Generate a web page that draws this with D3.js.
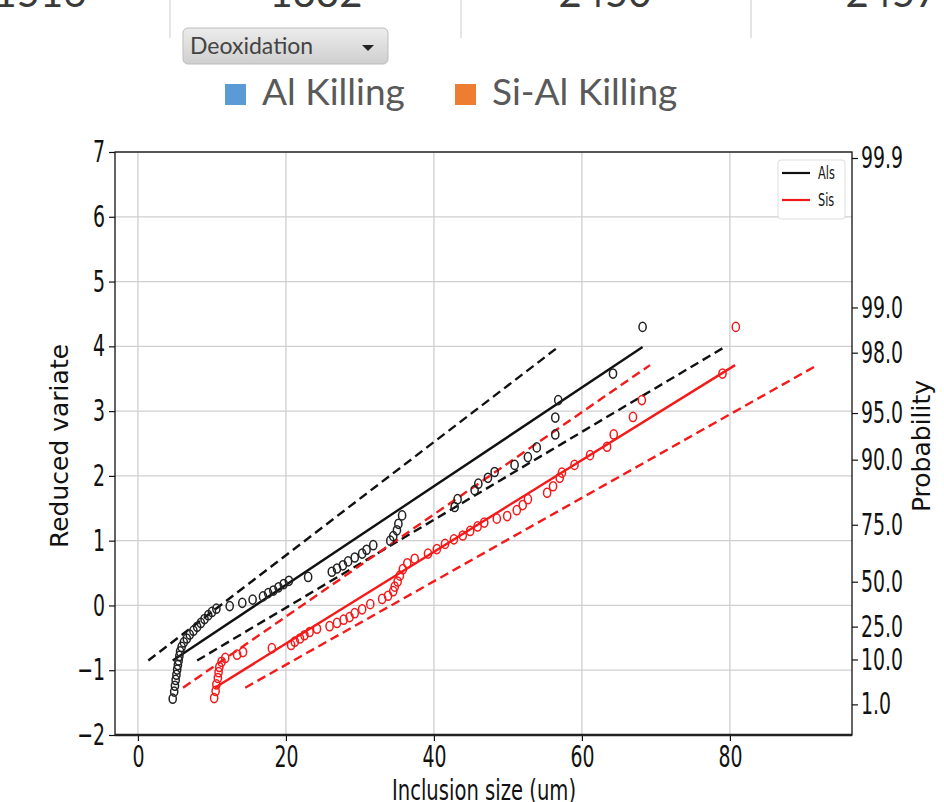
<!DOCTYPE html>
<html lang="en">
<head>
<meta charset="utf-8">
<script src="https://d3js.org/d3.v7.min.js"></script>
<style>
  body { margin: 0; background: #fff; }
  svg { display: block; }
</style>
</head>
<body>
<div id="chart"></div>
<script>
var w = 944, h = 802;

// header strip (only the bottom of these numbers is visible)
var topNumbers = ["1516", "1332", "2450", "2457"];
var seriesNames = ["Al Killing", "Si-Al Killing"];
var seriesColors = ["#5b9bd5", "#ed7d31"];

// Als points: inclusion size (um) and reduced variate
var alsX = [4.7, 4.9, 5.0, 5.1, 5.2, 5.3, 5.4, 5.5, 5.6, 5.7, 5.9, 6.2, 6.6, 7.0, 7.5, 8.0, 8.5, 9.0, 9.5, 10.0,
            10.6, 12.4, 14.1, 15.5, 16.9, 17.6, 18.3, 19.0, 19.7, 20.4, 23.0, 26.2, 26.9, 27.7, 28.4, 29.3, 30.3, 30.9,
            31.8, 34.1, 34.5, 35.0, 35.2, 35.7, 42.8, 43.2, 45.5, 46.0, 47.3, 48.2, 50.9, 52.7, 53.9, 56.4, 56.4,
            56.8, 64.2, 68.2];
var alsY = [-1.44, -1.33, -1.24, -1.15, -1.07, -0.99, -0.92, -0.85, -0.78, -0.71, -0.64, -0.57, -0.51, -0.45, -0.39,
            -0.33, -0.27, -0.21, -0.15, -0.10, -0.05, -0.01, 0.04, 0.09, 0.14, 0.19, 0.23, 0.28, 0.33, 0.38, 0.44, 0.52,
            0.57, 0.62, 0.68, 0.74, 0.80, 0.86, 0.93, 1.00, 1.07, 1.16, 1.26, 1.39, 1.52, 1.64, 1.78, 1.88, 1.97, 2.06,
            2.17, 2.29, 2.44, 2.64, 2.90, 3.17, 3.58, 4.30];

// Sis points
var sisX = [10.3, 10.5, 10.6, 10.8, 10.9, 11.0, 11.3, 11.8, 13.4, 14.2, 18.1, 20.7, 21.2, 21.9, 22.5, 23.2, 24.2,
            25.9, 26.9, 27.8, 28.6, 29.3, 30.3, 31.4, 33.0, 33.8, 34.5, 34.7, 35.1, 35.4, 35.8, 36.4, 37.4, 39.2,
            40.4, 41.5, 42.7, 43.9, 44.9, 45.9, 46.8, 48.5, 49.9, 51.2, 52.0, 52.7, 55.3, 56.1, 57.0, 57.3, 59.0,
            61.1, 63.4, 64.3, 66.9, 68.1, 79.0, 80.8];
var sisY = [-1.43, -1.32, -1.22, -1.12, -1.03, -0.95, -0.87, -0.81, -0.76, -0.72, -0.66, -0.61, -0.56, -0.51, -0.46,
            -0.41, -0.36, -0.32, -0.27, -0.22, -0.18, -0.12, -0.06, 0.02, 0.10, 0.15, 0.22, 0.29, 0.37, 0.46, 0.56,
            0.65, 0.72, 0.80, 0.87, 0.95, 1.02, 1.08, 1.15, 1.22, 1.28, 1.34, 1.38, 1.47, 1.55, 1.64, 1.74, 1.84,
            1.97, 2.05, 2.17, 2.32, 2.45, 2.64, 2.91, 3.17, 3.58, 4.30];

// fitted lines and bounds, [x0, x1] and [y0, y1]
var alsFitX = [4.7, 68.2],   alsFitY = [-0.85, 3.99];
var alsUpX  = [1.4, 56.8],   alsUpY  = [-0.85, 3.99];
var alsLoX  = [8.0, 79.3],   alsLoY  = [-0.85, 3.99];
var sisFitX = [10.4, 80.7],  sisFitY = [-1.27, 3.71];
var sisUpX  = [6.1, 69.2],   sisUpY  = [-1.27, 3.71];
var sisLoX  = [14.5, 91.8],  sisLoY  = [-1.27, 3.71];

var xTicks = [0, 20, 40, 60, 80];
var yTicks = [-2, -1, 0, 1, 2, 3, 4, 5, 6, 7];
var probValues = [1, 10, 25, 50, 75, 90, 95, 98, 99, 99.9];
var probLabels = ["1.0", "10.0", "25.0", "50.0", "75.0", "90.0", "95.0", "98.0", "99.0", "99.9"];

var svg = d3.select("#chart").append("svg")
  .attr("width", w)
  .attr("height", h);

var defs = svg.append("defs");
var grad = defs.append("linearGradient").attr("id", "ddgrad")
  .attr("x1", 0).attr("y1", 0).attr("x2", 0).attr("y2", 1);
grad.append("stop").attr("offset", "0%").attr("stop-color", "#ececec");
grad.append("stop").attr("offset", "100%").attr("stop-color", "#cfcfcf");

// ---- header strip
var sepX = [170, 461, 751];
svg.selectAll("line.sep").data(sepX).enter().append("line")
  .attr("class", "sep")
  .attr("x1", function(d) { return d; }).attr("x2", function(d) { return d; })
  .attr("y1", 0).attr("y2", 38)
  .attr("stroke", "#dcdcdc").attr("stroke-width", 1.5);

var topCx = [40, 316, 605, 892];
svg.selectAll("text.topnum").data(topNumbers).enter().append("text")
  .attr("class", "topnum")
  .attr("x", function(d, i) { return topCx[i]; })
  .attr("y", 7)
  .attr("text-anchor", "middle")
  .attr("font-family", "Lato")
  .attr("font-size", 40)
  .attr("fill", "#3a3a3a")
  .text(function(d) { return d; });

// ---- dropdown
svg.append("rect")
  .attr("x", 183).attr("y", 28).attr("width", 205).attr("height", 36).attr("rx", 5)
  .attr("fill", "url(#ddgrad)").attr("stroke", "#bdbdbd");
svg.append("text")
  .attr("x", 190).attr("y", 54)
  .attr("font-family", "Lato").attr("font-size", 23)
  .attr("fill", "#444")
  .text("Deoxidation");
svg.append("path")
  .attr("d", "M362,45 L374,45 L368,51 Z")
  .attr("fill", "#222");

// ---- series legend
var legX = [225, 455];
var leg = svg.selectAll("g.leg").data(seriesNames).enter().append("g")
  .attr("class", "leg")
  .attr("transform", function(d, i) { return "translate(" + legX[i] + ",0)"; });
leg.append("rect")
  .attr("x", 0).attr("y", 84).attr("width", 21).attr("height", 21)
  .attr("fill", function(d, i) { return seriesColors[i]; });
leg.append("text")
  .attr("x", 37).attr("y", 105)
  .attr("font-family", "Lato").attr("font-size", 37)
  .attr("fill", "#595959")
  .text(function(d) { return d; });

// ---- chart
var pLeft = 115, pRight = 852, pTop = 152, pBottom = 735;
var x = d3.scaleLinear().domain([-3.1, 96.5]).range([pLeft, pRight]);
var y = d3.scaleLinear().domain([-2, 7]).range([pBottom, pTop]);
function gumbel(p) { return -Math.log(-Math.log(p / 100)); }

var tickFont = "DejaVu Sans";
var sq = 0.63;

function squish(sel, s) {
  sel.each(function() {
    var t = d3.select(this);
    var xv = +t.attr("x") || 0;
    t.attr("x", xv / s).attr("transform", "scale(" + s + ",1)");
  });
}

// grid
svg.append("g").selectAll("line").data(xTicks).enter().append("line")
  .attr("x1", function(d) { return x(d); }).attr("x2", function(d) { return x(d); })
  .attr("y1", pTop).attr("y2", pBottom)
  .attr("stroke", "#cfcfcf").attr("stroke-width", 1.3);
svg.append("g").selectAll("line").data(yTicks).enter().append("line")
  .attr("x1", pLeft).attr("x2", pRight)
  .attr("y1", function(d) { return y(d); }).attr("y2", function(d) { return y(d); })
  .attr("stroke", "#cfcfcf").attr("stroke-width", 1.3);

// axes
var xAxis = svg.append("g")
  .attr("transform", "translate(0," + pBottom + ")")
  .call(d3.axisBottom(x).tickValues(xTicks).tickSize(6).tickPadding(5).tickSizeOuter(0));
var yAxis = svg.append("g")
  .attr("transform", "translate(" + pLeft + ",0)")
  .call(d3.axisLeft(y).tickValues(yTicks).tickSize(6).tickPadding(4).tickSizeOuter(0));
var pAxis = svg.append("g")
  .attr("transform", "translate(" + pRight + ",0)")
  .call(d3.axisRight(y)
    .tickValues(probValues.map(gumbel))
    .tickFormat(function(d, i) { return probLabels[i]; })
    .tickSize(6).tickPadding(3).tickSizeOuter(0));

[xAxis, yAxis, pAxis].forEach(function(a) {
  a.select(".domain").remove();
  a.selectAll("line").attr("stroke", "#111").attr("stroke-width", 1.2);
  a.selectAll("text")
    .attr("font-family", tickFont)
    .attr("font-size", 30)
    .attr("fill", "#111");
  squish(a.selectAll("text"), sq);
});

// spines
svg.append("rect")
  .attr("x", pLeft).attr("y", pTop).attr("width", pRight - pLeft).attr("height", pBottom - pTop)
  .attr("fill", "none").attr("stroke", "#111").attr("stroke-width", 1.3);
svg.append("line")
  .attr("x1", pLeft).attr("x2", pRight).attr("y1", pBottom).attr("y2", pBottom)
  .attr("stroke", "#222").attr("stroke-width", 2.6);

// fitted lines
var line = d3.line()
  .x(function(d) { return x(d[0]); })
  .y(function(d) { return y(d[1]); });

var fits = [
  { xs: alsUpX, ys: alsUpY, color: "#111", dash: "9,5" },
  { xs: alsLoX, ys: alsLoY, color: "#111", dash: "9,5" },
  { xs: alsFitX, ys: alsFitY, color: "#111", dash: null },
  { xs: sisUpX, ys: sisUpY, color: "#f41a1a", dash: "9,5" },
  { xs: sisLoX, ys: sisLoY, color: "#f41a1a", dash: "9,5" },
  { xs: sisFitX, ys: sisFitY, color: "#f41a1a", dash: null }
];
svg.append("g").selectAll("path").data(fits).enter().append("path")
  .attr("d", function(d) { return line(d3.zip(d.xs, d.ys)); })
  .attr("fill", "none")
  .attr("stroke", function(d) { return d.color; })
  .attr("stroke-width", 2.4)
  .attr("stroke-dasharray", function(d) { return d.dash; });

// points
function drawPoints(xs, ys, color) {
  svg.append("g").selectAll("ellipse").data(d3.zip(xs, ys)).enter().append("ellipse")
    .attr("cx", function(d) { return x(d[0]); })
    .attr("cy", function(d) { return y(d[1]); })
    .attr("rx", 3.6).attr("ry", 4.6)
    .attr("fill", "none")
    .attr("stroke", color)
    .attr("stroke-width", 1.5);
}
drawPoints(alsX, alsY, "#222");
drawPoints(sisX, sisY, "#f41a1a");

// inner legend
svg.append("rect")
  .attr("x", 778).attr("y", 160).attr("width", 67).attr("height", 59).attr("rx", 3)
  .attr("fill", "#fff").attr("stroke", "#dddddd");
var innerNames = ["Als", "Sis"];
var innerColors = ["#111", "#f41a1a"];
var innerY = [173, 200];
innerNames.forEach(function(n, i) {
  svg.append("line")
    .attr("x1", 782).attr("x2", 810).attr("y1", innerY[i]).attr("y2", innerY[i])
    .attr("stroke", innerColors[i]).attr("stroke-width", 2.2);
  svg.append("text")
    .attr("x", 818 / sq).attr("y", innerY[i] + 6)
    .attr("transform", "scale(" + sq + ",1)")
    .attr("font-family", tickFont).attr("font-size", 18)
    .attr("fill", "#111")
    .text(n);
});

// axis labels
svg.append("text")
  .attr("x", 484 / 0.7).attr("y", 800)
  .attr("transform", "scale(0.7,1)")
  .attr("text-anchor", "middle")
  .attr("font-family", tickFont).attr("font-size", 28)
  .attr("fill", "#111")
  .text("Inclusion size (um)");
svg.append("text")
  .attr("transform", "translate(68,446) rotate(-90)")
  .attr("text-anchor", "middle")
  .attr("font-family", tickFont).attr("font-size", 25)
  .attr("fill", "#111")
  .text("Reduced variate");
svg.append("text")
  .attr("transform", "translate(930,446) rotate(-90)")
  .attr("text-anchor", "middle")
  .attr("font-family", tickFont).attr("font-size", 25)
  .attr("fill", "#111")
  .text("Probability");
</script>
</body>
</html>
